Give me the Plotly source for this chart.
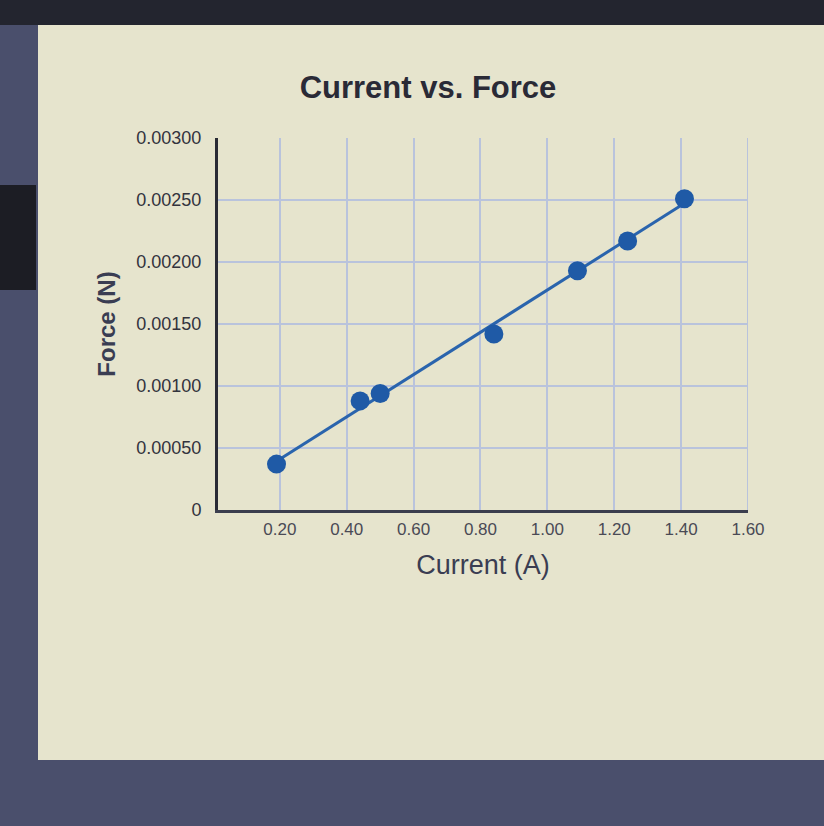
import numpy as np
import plotly.graph_objects as go

# Data
current_a = [0.19, 0.44, 0.50, 0.84, 1.09, 1.24, 1.41]
force_n = [0.00037, 0.00088, 0.00094, 0.00142, 0.00193, 0.00217, 0.00251]

x_tick_vals = [0.2, 0.4, 0.6, 0.8, 1.0, 1.2, 1.4, 1.6]
x_tick_text = ["0.20", "0.40", "0.60", "0.80", "1.00", "1.20", "1.40", "1.60"]
y_tick_vals = [0, 0.0005, 0.001, 0.0015, 0.002, 0.0025, 0.003]
y_tick_text = ["0", "0.00050", "0.00100", "0.00150", "0.00200", "0.00250", "0.00300"]

# Linear trendline (least squares) across the data range
slope, intercept = np.polyfit(current_a, force_n, 1)
fit_x = [min(current_a), max(current_a)]
fit_y = [slope * v + intercept for v in fit_x]

W, H = 824, 826
L, R, T, B = 218, 76, 138, 316
pw, ph = W - L - R, H - T - B

def px_to_paper_x(px):
    return (px - L) / pw

def px_to_paper_y(py):
    return (H - B - py) / ph

fig = go.Figure()

fig.add_trace(go.Scatter(
    x=fit_x, y=fit_y, mode="lines",
    line=dict(color="#2a64ad", width=3),
    hoverinfo="skip", showlegend=False,
))
fig.add_trace(go.Scatter(
    x=current_a, y=force_n, mode="markers",
    marker=dict(color="#1f5aa6", size=19),
    showlegend=False,
))

shapes = [
    # cream panel
    dict(type="rect", xref="paper", yref="paper", layer="below",
         x0=px_to_paper_x(38), x1=px_to_paper_x(830),
         y0=px_to_paper_y(760), y1=px_to_paper_y(25),
         fillcolor="#e6e4cd", line=dict(width=0)),
    # dark top band
    dict(type="rect", xref="paper", yref="paper", layer="below",
         x0=px_to_paper_x(-5), x1=px_to_paper_x(830),
         y0=px_to_paper_y(25), y1=px_to_paper_y(-5),
         fillcolor="#23252f", line=dict(width=0)),
    # dark window fragment on the left
    dict(type="rect", xref="paper", yref="paper", layer="below",
         x0=px_to_paper_x(-5), x1=px_to_paper_x(36),
         y0=px_to_paper_y(290), y1=px_to_paper_y(185),
         fillcolor="#1c1d24", line=dict(width=0)),
    # right grid edge
    dict(type="line", xref="x", yref="paper", x0=1.6, x1=1.6, y0=0, y1=1,
         line=dict(color="#b9c3dc", width=2), layer="below"),
]

fig.update_layout(
    width=W, height=H,
    margin=dict(l=L, r=R, t=T, b=B),
    paper_bgcolor="#4a4f6c",
    plot_bgcolor="rgba(0,0,0,0)",
    shapes=shapes,
    font=dict(family="Liberation Sans, Arial, sans-serif", color="#3a3a44"),
    title=dict(
        text="<b>Current vs. Force</b>",
        x=428 / W, xanchor="center",
        y=1 - 87 / H, yanchor="middle", yref="container",
        font=dict(size=31, color="#2a2a36"),
    ),
    xaxis=dict(
        range=[0.015, 1.6],
        tickvals=x_tick_vals, ticktext=x_tick_text,
        tickfont=dict(size=17, color="#4a4a55"),
        showgrid=True, gridcolor="#b9c3dc", gridwidth=2,
        showline=True, linecolor="#3b3e4e", linewidth=3,
        ticks="", ticklabelstandoff=2,
        zeroline=False, mirror=False,
        title=dict(text="Current (A)", font=dict(size=27, color="#3a3d52"), standoff=17),
    ),
    yaxis=dict(
        range=[0, 0.003],
        tickvals=y_tick_vals, ticktext=y_tick_text,
        tickfont=dict(size=18, color="#33333d"),
        showgrid=True, gridcolor="#b9c3dc", gridwidth=2,
        showline=True, linecolor="#2a2b35", linewidth=3,
        ticks="", ticklabelstandoff=10,
        zeroline=False,
        title=dict(text="<b>Force (N)</b>", font=dict(size=24, color="#3a3d52"), standoff=14),
    ),
)

fig.write_html("out.html", post_script="document.body.style.margin='0';",
               config={"displayModeBar": False})
